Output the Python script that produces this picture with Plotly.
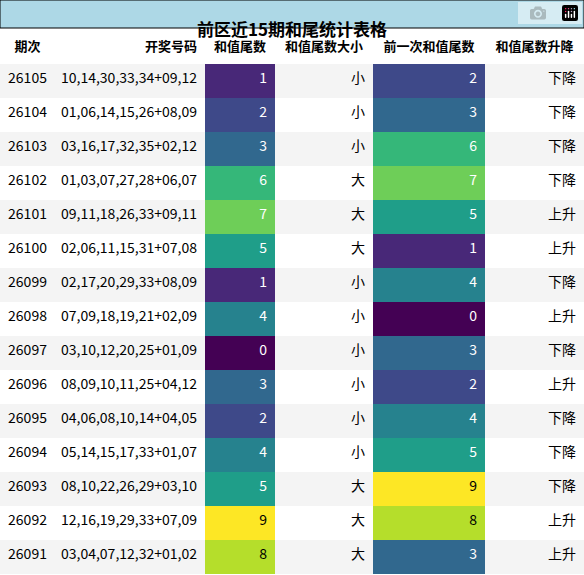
import plotly.graph_objects as go

periods = ["26105","26104","26103","26102","26101","26100","26099","26098","26097","26096","26095","26094","26093","26092","26091"]
numbers = ["10,14,30,33,34+09,12","01,06,14,15,26+08,09","03,16,17,32,35+02,12","01,03,07,27,28+06,07",
           "09,11,18,26,33+09,11","02,06,11,15,31+07,08","02,17,20,29,33+08,09","07,09,18,19,21+02,09",
           "03,10,12,20,25+01,09","08,09,10,11,25+04,12","04,06,08,10,14+04,05","05,14,15,17,33+01,07",
           "08,10,22,26,29+03,10","12,16,19,29,33+07,09","03,04,07,12,32+01,02"]
tail = [1,2,3,6,7,5,1,4,0,3,2,4,5,9,8]
size = ["小","小","小","大","大","大","小","小","小","小","小","小","大","大","大"]
prev = [2,3,6,7,5,1,4,0,3,2,4,5,9,8,3]
trend = ["下降","下降","下降","下降","上升","上升","下降","上升","下降","上升","下降","下降","下降","上升","上升"]
headers = ["期次","开奖号码","和值尾数","和值尾数大小","前一次和值尾数","和值尾数升降"]

viridis = ["#440154","#482878","#3e4989","#31688e","#26828e","#1f9e89","#35b779","#6ece58","#b5de2b","#fde725"]
row_bg = ["#f4f4f4" if i % 2 == 0 else "#ffffff" for i in range(len(periods))]
fc = lambda v: "black" if v >= 8 else "white"

fig = go.Figure(go.Table(
    columnwidth=[55,150,70,98,112,99],
    header=dict(values=[f"<b>{h}</b>" for h in headers],
                align=["center","right","center","center","center","center"],
                fill_color="white", line=dict(width=0), height=36,
                font=dict(size=13, color="black", family="Noto Sans CJK SC")),
    cells=dict(values=[periods, numbers, tail, size, prev, trend],
               align=["center","right","right","right","right","right"],
               fill_color=[row_bg, row_bg, [viridis[v] for v in tail], row_bg, [viridis[v] for v in prev], row_bg],
               font=dict(size=14, family="Noto Sans CJK SC",
                         color=[["black"]*15, ["black"]*15, [fc(v) for v in tail], ["black"]*15, [fc(v) for v in prev], ["black"]*15]),
               line=dict(width=0), height=34),
    domain=dict(x=[0,1], y=[0, 1-28/575])
))
fig.add_shape(type="rect", xref="paper", yref="paper", x0=0, x1=1, y0=1-28/575, y1=1,
              fillcolor="#add8e6", line=dict(color="black", width=1))
fig.add_annotation(text="<b>前区近15期和尾统计表格</b>", xref="paper", yref="paper", x=0.5, y=1-14/575,
                   showarrow=False, font=dict(size=17, color="black", family="Noto Sans CJK SC"))
fig.update_layout(width=584, height=575, margin=dict(l=0, r=0, t=0, b=0), paper_bgcolor="white")
fig.write_html("out.html", post_script="document.body.style.margin='0';document.body.style.overflow='hidden';")
